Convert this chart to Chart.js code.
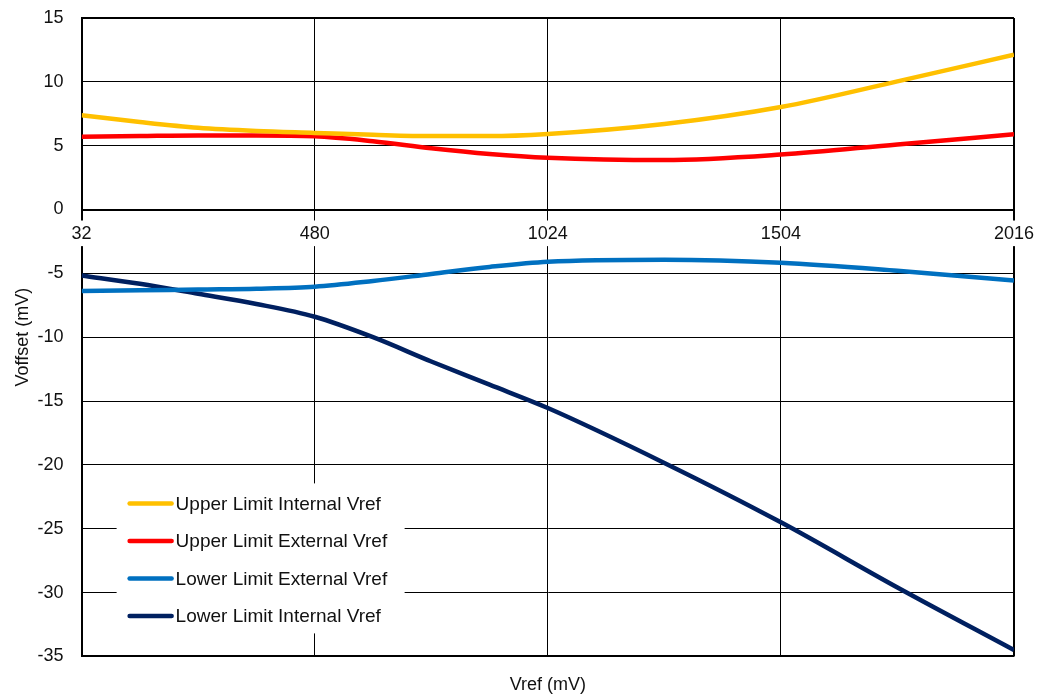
<!DOCTYPE html>
<html><head><meta charset="utf-8">
<script src="https://cdn.jsdelivr.net/npm/chart.js@4/dist/chart.umd.min.js"></script>
<style>html,body{margin:0;padding:0;background:#fff}#wrap{width:1040px;height:698px}</style>
</head><body><div id="wrap"><canvas id="c" width="1040" height="698"></canvas></div>
<script>
// Category tick labels (Vref, mV) placed at evenly spaced positions 0..4
const categories = ['32', '480', '1024', '1504', '2016'];
// Sample positions along the category axis
const xPos = [0, 0.25, 0.5, 0.75, 1, 1.25, 1.5, 1.75, 2, 2.5, 3, 3.5, 4];
// Series values (Voffset, mV)
const upperInternal = [7.38, 6.85, 6.4, 6.15, 6.0, 5.85, 5.75, 5.75, 5.92, 6.7, 8.03, 10.04, 12.13];
const upperExternal = [5.69, 5.75, 5.8, 5.8, 5.74, 5.35, 4.8, 4.35, 4.05, 3.87, 4.30, 5.1, 5.89];
const lowerExternal = [-6.39, -6.33, -6.26, -6.2, -6.05, -5.6, -5.05, -4.5, -4.09, -3.93, -4.17, -4.8, -5.56];
const lowerInternal = [-5.16, -5.82, -6.6, -7.4, -8.4, -10.0, -11.9, -13.72, -15.55, -19.85, -24.5, -29.6, -34.5];
const seriesNames = ['Upper Limit Internal Vref', 'Upper Limit External Vref', 'Lower Limit External Vref', 'Lower Limit Internal Vref'];
const yMin = -35, yMax = 15, yStep = 5;

const FONT = '"Liberation Sans", Arial, sans-serif';
const TXT = '#111';

function pts(arr) { return xPos.map((x, i) => ({ x: x, y: arr[i] })); }

const insideLegend = {
  id: 'insideLegend',
  beforeDatasetsDraw(chart) {
    const { ctx, chartArea: a } = chart;
    ctx.save();
    ctx.fillStyle = '#fff';
    ctx.fillRect(a.left + 35, a.bottom - 173, 288, 150);
    ctx.font = '19px ' + FONT;
    ctx.textBaseline = 'middle';
    chart.data.datasets.forEach((ds, i) => {
      const y = a.bottom - 153 + i * 37.5;
      ctx.strokeStyle = ds.borderColor;
      ctx.lineWidth = 4.5;
      ctx.lineCap = 'round';
      ctx.beginPath();
      ctx.moveTo(a.left + 48, y);
      ctx.lineTo(a.left + 90, y);
      ctx.stroke();
      ctx.fillStyle = TXT;
      ctx.fillText(ds.label, a.left + 94, y + 1);
    });
    ctx.restore();
  }
};

const mk = (label, arr, color) => ({
  label: label, data: pts(arr), borderColor: color, backgroundColor: color,
  borderWidth: 4.5, pointRadius: 0, cubicInterpolationMode: 'monotone', fill: false
});

new Chart(document.getElementById('c'), {
  type: 'line',
  data: {
    datasets: [
      mk(seriesNames[0], upperInternal, '#FFC000'),
      mk(seriesNames[1], upperExternal, '#FF0000'),
      mk(seriesNames[2], lowerExternal, '#0070C0'),
      mk(seriesNames[3], lowerInternal, '#002060')
    ]
  },
  options: {
    responsive: false,
    animation: false,
    devicePixelRatio: 1,
    layout: { padding: { left: 9, right: 5, top: 18, bottom: 0 } },
    plugins: {
      legend: { display: false },
      tooltip: { enabled: false },
      title: {
        display: true, text: 'Vref (mV)', position: 'bottom', fullSize: false,
        color: TXT, font: { family: FONT, size: 18, weight: 'normal' },
        padding: { top: 18, bottom: 2 }
      }
    },
    scales: {
      x: {
        type: 'linear', min: 0, max: categories.length - 1,
        position: { y: 0 },
        ticks: {
          stepSize: 1, autoSkip: false, maxRotation: 0,
          callback: (v) => categories[v] !== undefined ? categories[v] : '',
          color: TXT, font: { family: FONT, size: 18 }, padding: 6,
          showLabelBackdrop: true, backdropColor: '#fff',
          backdropPadding: { top: 3, bottom: 1, left: 3, right: 3 }, z: 1
        },
        grid: {
          color: '#000', tickLength: 8,
          lineWidth: (c) => (c.tick && c.tick.value === categories.length - 1) ? 2 : 1
        },
        border: { color: '#000', width: 2 }
      },
      y: {
        min: yMin, max: yMax,
        ticks: { stepSize: yStep, color: TXT, font: { family: FONT, size: 18 }, padding: 3 },
        grid: {
          drawTicks: true, tickLength: 15, tickColor: 'rgba(0,0,0,0)', color: '#000',
          lineWidth: (c) => (c.tick && (c.tick.value === yMax || c.tick.value === yMin)) ? 2 : 1
        },
        border: { color: '#000', width: 2 },
        title: { display: true, text: 'Voffset (mV)', color: TXT, font: { family: FONT, size: 18 }, padding: { top: 3, bottom: 1 } }
      }
    }
  },
  plugins: [insideLegend]
});
</script>
</body></html>
